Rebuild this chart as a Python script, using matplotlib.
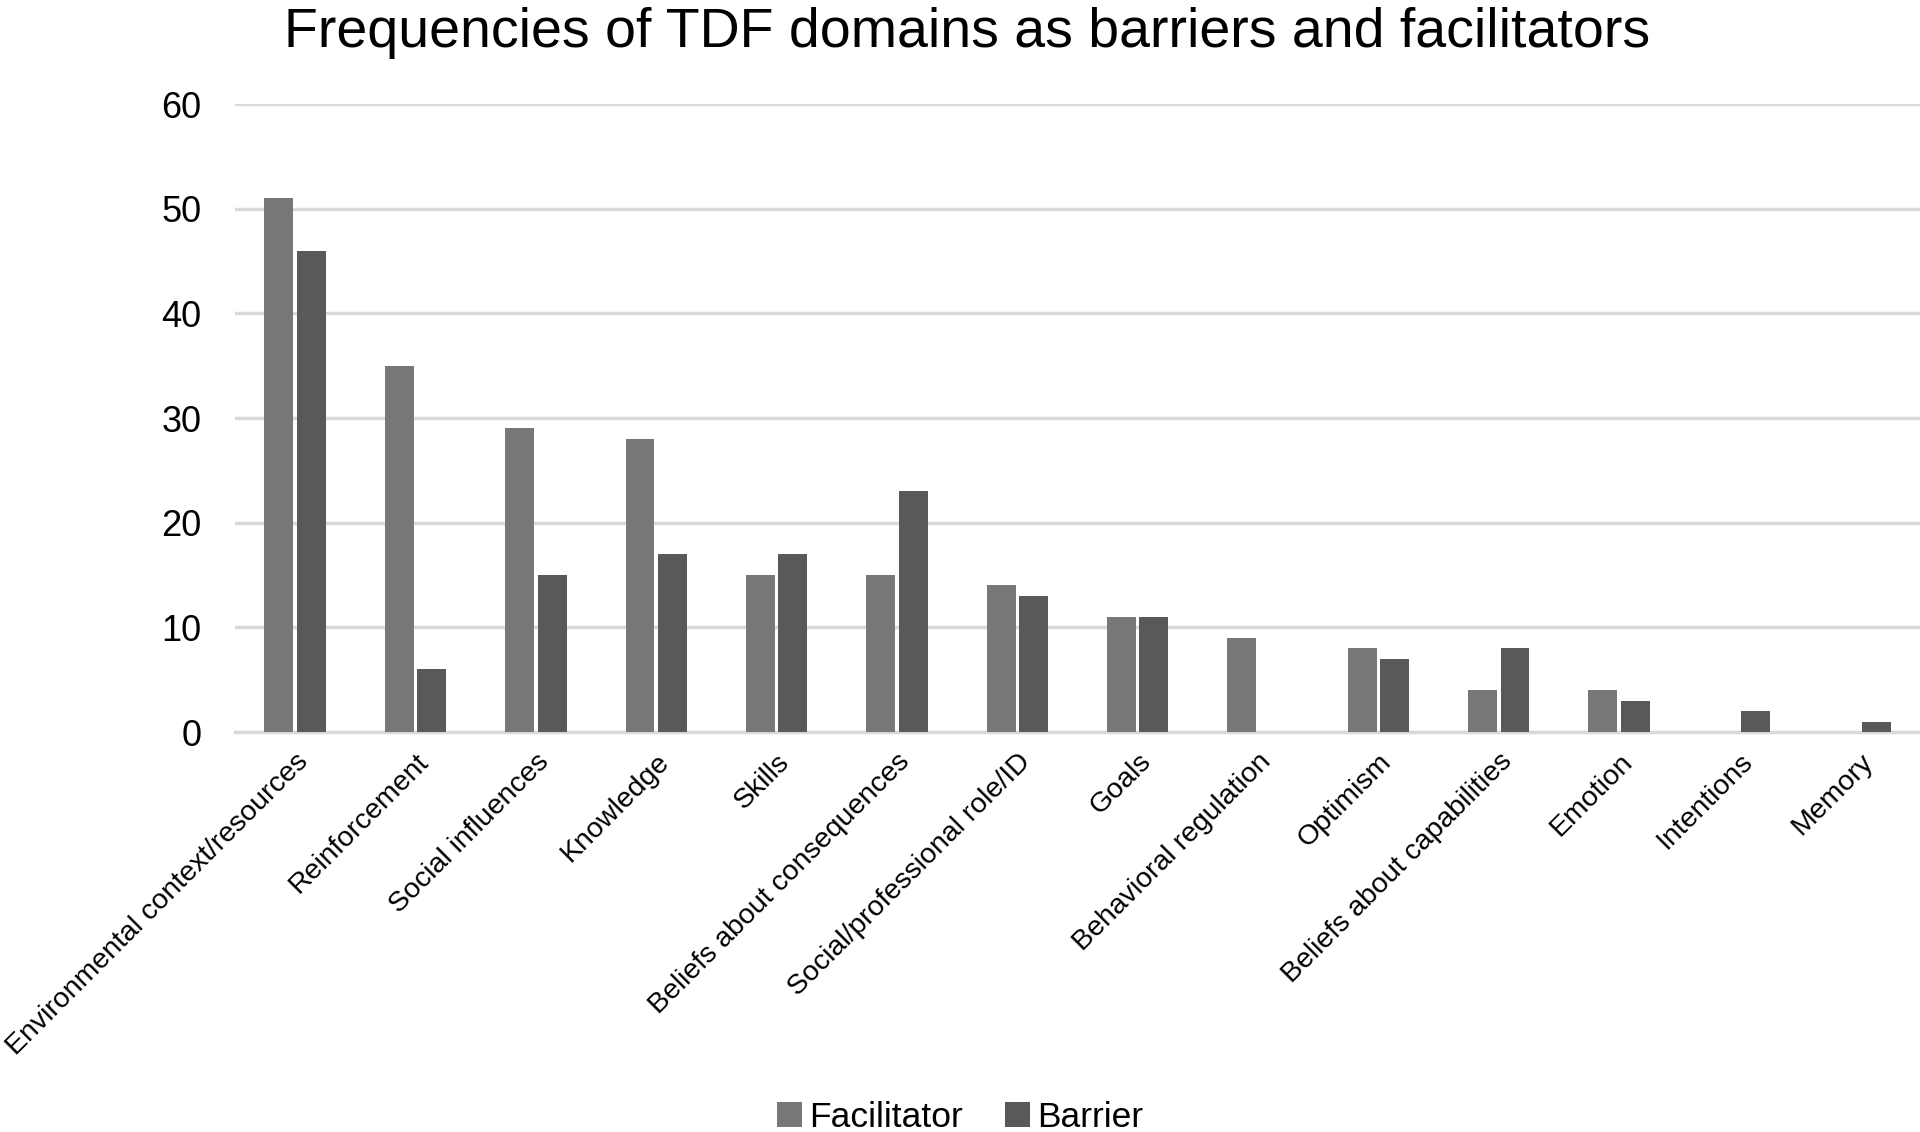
import numpy as np
import matplotlib.pyplot as plt

plt.rcParams['font.family'] = ['Liberation Sans', 'DejaVu Sans']

# TDF domains and counts
domains = ['Environmental context/resources', 'Reinforcement', 'Social influences',
           'Knowledge', 'Skills', 'Beliefs about consequences',
           'Social/professional role/ID', 'Goals', 'Behavioral regulation',
           'Optimism', 'Beliefs about capabilities', 'Emotion', 'Intentions', 'Memory']
facilitator = [51, 35, 29, 28, 15, 15, 14, 11, 9, 8, 4, 4, 0, 0]
barrier = [46, 6, 15, 17, 17, 23, 13, 11, 0, 7, 8, 3, 2, 1]
yticks = [0, 10, 20, 30, 40, 50, 60]

fig = plt.figure(figsize=(19.2, 11.32), dpi=100)
ax = fig.add_axes([235 / 1920, 1 - 732 / 1132, 1685 / 1920, (732 - 104) / 1132])

x = np.arange(len(domains))
w = 0.24
ax.bar(x - 0.135, facilitator, w, color='#777777', label='Facilitator', zorder=3)
ax.bar(x + 0.135, barrier, w, color='#595959', label='Barrier', zorder=3)

ax.set_xlim(-0.5, len(domains) - 0.5)
ax.set_ylim(0, 60)
ax.set_yticks(yticks)
ax.yaxis.grid(True, color='#d9d9d9', linewidth=2.5, zorder=0)
ax.tick_params(axis='y', length=0, labelsize=26, pad=24)
ax.tick_params(axis='x', length=0, pad=12)
for s in ['top', 'right', 'left']:
    ax.spines[s].set_visible(False)
ax.spines['bottom'].set_color('#d9d9d9')
ax.spines['bottom'].set_linewidth(2.5)

ax.set_xticks(x)
ax.set_xticklabels(domains, rotation=45, ha='right', va='top',
                   rotation_mode='anchor', fontsize=20.5)

fig.suptitle('Frequencies of TDF domains as barriers and facilitators',
             fontsize=40, y=0.994, x=967 / 1920, va='top')

fig.legend(loc='lower center', bbox_to_anchor=(0.5, -0.03), ncol=2, frameon=False,
           fontsize=25.5, handlelength=0.7, handleheight=0.7, handletextpad=0.2,
           columnspacing=1.2)

fig.savefig('out.png', dpi=100)
